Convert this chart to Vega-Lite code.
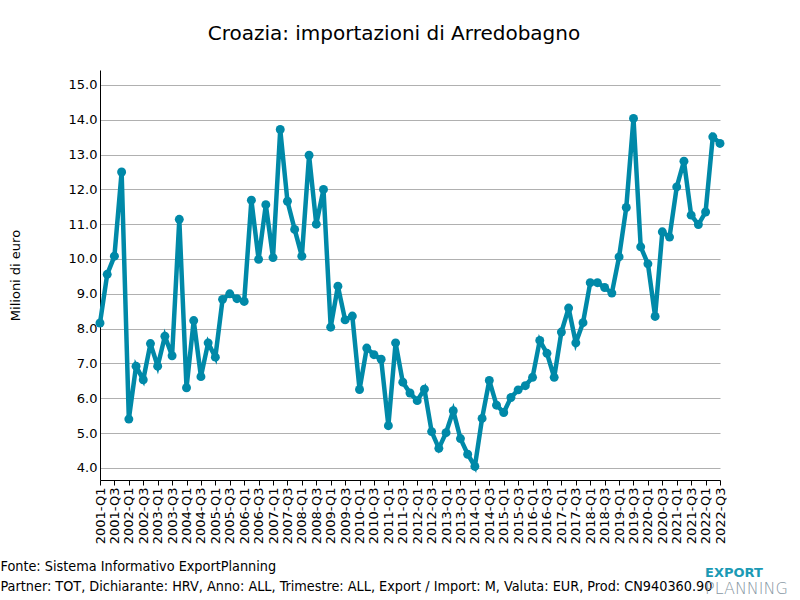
{
  "$schema": "https://vega.github.io/schema/vega-lite/v6.json",
  "padding": {"left": 0, "top": 24, "right": 0, "bottom": 0},
  "background": "white",
  "title": {"text": "Croazia: importazioni di Arredobagno", "fontSize": 20, "font": "DejaVu Sans", "fontWeight": "normal", "color": "#000", "anchor": "middle", "offset": 26},
  "config": {
    "view": {"stroke": null},
    "font": "DejaVu Sans"
  },
  "spacing": 0,
  "vconcat": [
    {
      "width": 620,
      "height": 410,
      "title": {"text": "EXPORT", "subtitle": "PLANNING", "orient": "bottom", "anchor": "end", "align": "left", "dx": -24, "offset": -26, "font": "DejaVu Sans", "fontSize": 13, "fontWeight": "bold", "color": "#1b9ab5", "subtitleFont": "DejaVu Sans", "subtitleFontSize": 16, "subtitleFontWeight": 300, "subtitleColor": "#8797a3", "subtitlePadding": 1},
      "data": {"values": [
        {"q": "2001-Q1", "v": 8.16}, {"q": "2001-Q2", "v": 9.56}, {"q": "2001-Q3", "v": 10.08}, {"q": "2001-Q4", "v": 12.50},
        {"q": "2002-Q1", "v": 5.40}, {"q": "2002-Q2", "v": 6.92}, {"q": "2002-Q3", "v": 6.53}, {"q": "2002-Q4", "v": 7.57},
        {"q": "2003-Q1", "v": 6.92}, {"q": "2003-Q2", "v": 7.78}, {"q": "2003-Q3", "v": 7.22}, {"q": "2003-Q4", "v": 11.14},
        {"q": "2004-Q1", "v": 6.30}, {"q": "2004-Q2", "v": 8.23}, {"q": "2004-Q3", "v": 6.62}, {"q": "2004-Q4", "v": 7.59},
        {"q": "2005-Q1", "v": 7.18}, {"q": "2005-Q2", "v": 8.84}, {"q": "2005-Q3", "v": 9.00}, {"q": "2005-Q4", "v": 8.86},
        {"q": "2006-Q1", "v": 8.78}, {"q": "2006-Q2", "v": 11.69}, {"q": "2006-Q3", "v": 9.99}, {"q": "2006-Q4", "v": 11.56},
        {"q": "2007-Q1", "v": 10.04}, {"q": "2007-Q2", "v": 13.72}, {"q": "2007-Q3", "v": 11.66}, {"q": "2007-Q4", "v": 10.85},
        {"q": "2008-Q1", "v": 10.08}, {"q": "2008-Q2", "v": 12.98}, {"q": "2008-Q3", "v": 11.00}, {"q": "2008-Q4", "v": 12.00},
        {"q": "2009-Q1", "v": 8.04}, {"q": "2009-Q2", "v": 9.22}, {"q": "2009-Q3", "v": 8.25}, {"q": "2009-Q4", "v": 8.36},
        {"q": "2010-Q1", "v": 6.25}, {"q": "2010-Q2", "v": 7.44}, {"q": "2010-Q3", "v": 7.25}, {"q": "2010-Q4", "v": 7.12},
        {"q": "2011-Q1", "v": 5.21}, {"q": "2011-Q2", "v": 7.59}, {"q": "2011-Q3", "v": 6.46}, {"q": "2011-Q4", "v": 6.15},
        {"q": "2012-Q1", "v": 5.93}, {"q": "2012-Q2", "v": 6.26}, {"q": "2012-Q3", "v": 5.04}, {"q": "2012-Q4", "v": 4.56},
        {"q": "2013-Q1", "v": 5.01}, {"q": "2013-Q2", "v": 5.64}, {"q": "2013-Q3", "v": 4.84}, {"q": "2013-Q4", "v": 4.39},
        {"q": "2014-Q1", "v": 4.04}, {"q": "2014-Q2", "v": 5.42}, {"q": "2014-Q3", "v": 6.51}, {"q": "2014-Q4", "v": 5.80},
        {"q": "2015-Q1", "v": 5.59}, {"q": "2015-Q2", "v": 6.02}, {"q": "2015-Q3", "v": 6.24}, {"q": "2015-Q4", "v": 6.36},
        {"q": "2016-Q1", "v": 6.60}, {"q": "2016-Q2", "v": 7.66}, {"q": "2016-Q3", "v": 7.29}, {"q": "2016-Q4", "v": 6.60},
        {"q": "2017-Q1", "v": 7.90}, {"q": "2017-Q2", "v": 8.59}, {"q": "2017-Q3", "v": 7.59}, {"q": "2017-Q4", "v": 8.17},
        {"q": "2018-Q1", "v": 9.32}, {"q": "2018-Q2", "v": 9.32}, {"q": "2018-Q3", "v": 9.18}, {"q": "2018-Q4", "v": 9.02},
        {"q": "2019-Q1", "v": 10.06}, {"q": "2019-Q2", "v": 11.48}, {"q": "2019-Q3", "v": 14.04}, {"q": "2019-Q4", "v": 10.35},
        {"q": "2020-Q1", "v": 9.86}, {"q": "2020-Q2", "v": 8.35}, {"q": "2020-Q3", "v": 10.78}, {"q": "2020-Q4", "v": 10.63},
        {"q": "2021-Q1", "v": 12.07}, {"q": "2021-Q2", "v": 12.81}, {"q": "2021-Q3", "v": 11.26}, {"q": "2021-Q4", "v": 10.99},
        {"q": "2022-Q1", "v": 11.35}, {"q": "2022-Q2", "v": 13.51}, {"q": "2022-Q3", "v": 13.32}
      ]},
      "encoding": {
        "x": {
          "field": "q", "type": "ordinal", "sort": null,
          "scale": {"type": "point", "padding": 0},
          "axis": {
            "values": ["2001-Q1","2001-Q3","2002-Q1","2002-Q3","2003-Q1","2003-Q3","2004-Q1","2004-Q3","2005-Q1","2005-Q3","2006-Q1","2006-Q3","2007-Q1","2007-Q3","2008-Q1","2008-Q3","2009-Q1","2009-Q3","2010-Q1","2010-Q3","2011-Q1","2011-Q3","2012-Q1","2012-Q3","2013-Q1","2013-Q3","2014-Q1","2014-Q3","2015-Q1","2015-Q3","2016-Q1","2016-Q3","2017-Q1","2017-Q3","2018-Q1","2018-Q3","2019-Q1","2019-Q3","2020-Q1","2020-Q3","2021-Q1","2021-Q3","2022-Q1","2022-Q3"],
            "labelAngle": -90, "labelAlign": "right", "labelBaseline": "middle",
            "labelFontSize": 13, "labelColor": "#000", "labelPadding": 2, "labelOverlap": false,
            "tickSize": 5, "tickColor": "#000", "domainColor": "#000", "domainWidth": 1, "grid": false,
            "title": ["Fonte: Sistema Informativo ExportPlanning", "Partner: TOT, Dichiarante: HRV, Anno: ALL, Trimestre: ALL, Export / Import: M, Valuta: EUR, Prod: CN940360.90"],
            "titleX": -100, "titleY": 90, "titleAlign": "left", "titleAnchor": "start", "titleBaseline": "alphabetic",
            "titleFont": "DejaVu Sans Condensed", "titleFontSize": 14.3, "titleFontWeight": "normal", "titleColor": "#000", "titleLineHeight": 20
          }
        },
        "y": {
          "field": "v", "type": "quantitative",
          "scale": {"domain": [3.65, 15.43], "nice": false, "zero": false},
          "axis": {
            "values": [4,5,6,7,8,9,10,11,12,13,14,15], "format": ".1f",
            "labelFontSize": 13, "labelColor": "#000", "labelPadding": 3,
            "ticks": false, "domainColor": "#000", "domainWidth": 1,
            "grid": true, "gridColor": "#b0b0b0", "gridWidth": 1,
            "title": "Milioni di euro", "titleFontSize": 13, "titleFontWeight": "normal", "titleColor": "#000",
            "titleX": -85, "titleBaseline": "middle", "titleAngle": 270
          }
        }
      },
      "layer": [
        {"mark": {"type": "line", "color": "#0089a8", "strokeWidth": 4.5}},
        {"mark": {"type": "point", "filled": true, "opacity": 1, "color": "#0089a8", "size": 80}}
      ]
    }
  ]
}
